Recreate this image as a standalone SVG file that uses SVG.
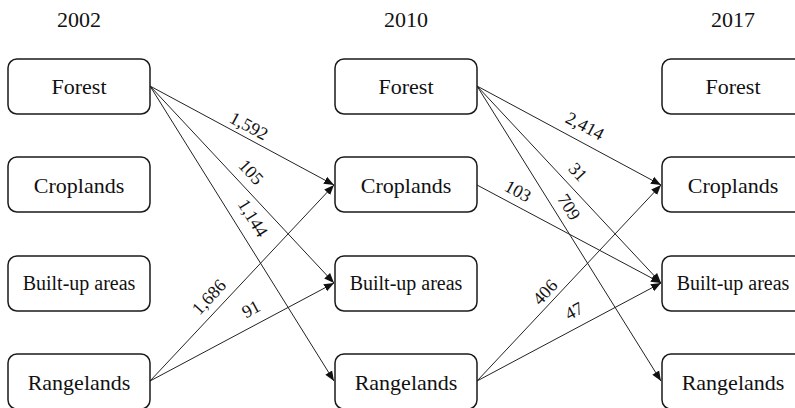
<svg xmlns="http://www.w3.org/2000/svg" width="795" height="408" viewBox="0 0 795 408" font-family="'Liberation Serif', Tinos, 'Times New Roman', 'DejaVu Serif', serif">
<style>
.box{fill:#fff;stroke:#1a1a1a;stroke-width:1.5}
text{font-family:'Liberation Serif', Tinos, 'Times New Roman', 'DejaVu Serif', serif;fill:#111;text-anchor:middle}
.t{font-size:22px}
.s{font-size:20px}
.yr{font-size:22px}
.e{stroke:#222;stroke-width:1;fill:none;marker-end:url(#ah)}
.lb{font-size:18px}
</style>
<defs>
<marker id="ah" viewBox="0 0 10 10" refX="10" refY="5" markerWidth="10" markerHeight="10" markerUnits="userSpaceOnUse" orient="auto">
<path d="M0,1 L10,5 L0,9 Z" fill="#111"/>
</marker>
</defs>
<rect width="795" height="408" fill="#fff"/>
<g id="years">
<text class="yr" x="79" y="27">2002</text>
<text class="yr" x="406" y="27">2010</text>
<text class="yr" x="733" y="27">2017</text>
</g>
<g id="connectors">
<line class="e" x1="150" y1="86" x2="334" y2="185"/>
<line class="e" x1="150" y1="86" x2="334" y2="283"/>
<line class="e" x1="150" y1="86" x2="334" y2="381"/>
<line class="e" x1="150" y1="381" x2="334" y2="185"/>
<line class="e" x1="150" y1="381" x2="334" y2="283"/>
<line class="e" x1="477" y1="86" x2="661" y2="185"/>
<line class="e" x1="477" y1="86" x2="661" y2="283"/>
<line class="e" x1="477" y1="86" x2="661" y2="381"/>
<line class="e" x1="477" y1="185" x2="661" y2="283"/>
<line class="e" x1="477" y1="381" x2="661" y2="185"/>
<line class="e" x1="477" y1="381" x2="661" y2="283"/>
<g id="labels">
<text class="lb" transform="translate(249,126) rotate(28.3)" y="6">1,592</text>
<text class="lb" transform="translate(251,172) rotate(47)" y="6">105</text>
<text class="lb" transform="translate(253,218) rotate(58)" y="6">1,144</text>
<text class="lb" transform="translate(209,297) rotate(-47)" y="6">1,686</text>
<text class="lb" transform="translate(251,309) rotate(-28.3)" y="6">91</text>
<text class="lb" transform="translate(585,126) rotate(28.3)" y="6">2,414</text>
<text class="lb" transform="translate(578,172) rotate(47)" y="6">31</text>
<text class="lb" transform="translate(569,207) rotate(58)" y="6">709</text>
<text class="lb" transform="translate(518,191) rotate(28.3)" y="6">103</text>
<text class="lb" transform="translate(545,292) rotate(-47)" y="6">406</text>
<text class="lb" transform="translate(574,311) rotate(-28.3)" y="6">47</text>
</g>
</g>
<g id="forest2002"><rect class="box" x="8" y="59" width="142" height="55" rx="9"/><text class="t" x="79" y="94">Forest</text></g>
<g id="croplands2002"><rect class="box" x="8" y="157" width="142" height="55" rx="9"/><text class="t" x="79" y="193">Croplands</text></g>
<g id="builtup2002"><rect class="box" x="8" y="256" width="142" height="55" rx="9"/><text class="t s" x="79" y="290">Built-up areas</text></g>
<g id="rangelands2002"><rect class="box" x="8" y="354" width="142" height="55" rx="9"/><text class="t" x="79" y="390">Rangelands</text></g>
<g id="forest2010"><rect class="box" x="335" y="59" width="142" height="55" rx="9"/><text class="t" x="406" y="94">Forest</text></g>
<g id="croplands2010"><rect class="box" x="335" y="157" width="142" height="55" rx="9"/><text class="t" x="406" y="193">Croplands</text></g>
<g id="builtup2010"><rect class="box" x="335" y="256" width="142" height="55" rx="9"/><text class="t s" x="406" y="290">Built-up areas</text></g>
<g id="rangelands2010"><rect class="box" x="335" y="354" width="142" height="55" rx="9"/><text class="t" x="406" y="390">Rangelands</text></g>
<g id="forest2017"><rect class="box" x="662" y="59" width="142" height="55" rx="9"/><text class="t" x="733" y="94">Forest</text></g>
<g id="croplands2017"><rect class="box" x="662" y="157" width="142" height="55" rx="9"/><text class="t" x="733" y="193">Croplands</text></g>
<g id="builtup2017"><rect class="box" x="662" y="256" width="142" height="55" rx="9"/><text class="t s" x="733" y="290">Built-up areas</text></g>
<g id="rangelands2017"><rect class="box" x="662" y="354" width="142" height="55" rx="9"/><text class="t" x="733" y="390">Rangelands</text></g>
</svg>
